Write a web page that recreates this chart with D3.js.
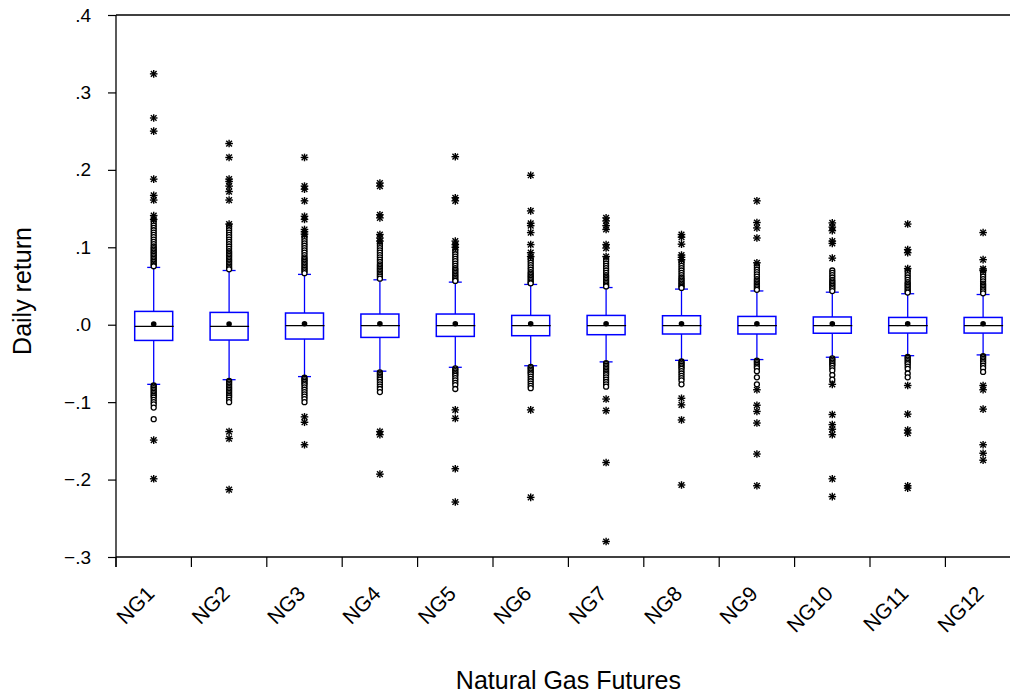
<!DOCTYPE html>
<html><head><meta charset="utf-8">
<script src="https://cdn.jsdelivr.net/npm/d3@7"></script>
<style>body{margin:0;background:#fff;overflow:hidden} text{font-family:Arial,"Liberation Sans",sans-serif;fill:#000}</style>
</head><body><svg id="c" width="1010" height="696"></svg>
<script>
const categories = ["NG1","NG2","NG3","NG4","NG5","NG6","NG7","NG8","NG9","NG10","NG11","NG12"];
const yTicks = [-0.3,-0.2,-0.1,0,0.1,0.2,0.3,0.4];
const q1 = [-0.0203,-0.0198,-0.0185,-0.0164,-0.0151,-0.0142,-0.0129,-0.0120,-0.0120,-0.0110,-0.0108,-0.0108];
const q3 = [0.0172,0.0159,0.0151,0.0138,0.0138,0.0120,0.0120,0.0116,0.0107,0.0100,0.0094,0.0094];
const medians = [-0.0022,-0.0022,-0.0013,-0.0013,-0.0013,-0.0013,-0.0013,-0.0013,-0.0013,-0.0013,-0.0013,-0.0013];
const means = [0.0010,0.0010,0.0013,0.0013,0.0013,0.0013,0.0013,0.0013,0.0013,0.0013,0.0013,0.0013];
const whiskerLow = [-0.077,-0.071,-0.067,-0.060,-0.055,-0.053,-0.048,-0.046,-0.045,-0.042,-0.040,-0.039];
const whiskerHigh = [0.074,0.070,0.065,0.058,0.055,0.052,0.048,0.046,0.0436,0.042,0.040,0.039];
const nearOutliers = [
  [0.135,0.131,0.128,0.125,0.122,0.119,0.116,0.113,0.11,0.107,0.104,0.101,0.099,0.097,0.095,0.093,0.091,0.089,0.087,0.085,0.083,0.081,0.079,0.077,0.0755,-0.0785,-0.08,-0.082,-0.084,-0.086,-0.088,-0.09,-0.092,-0.094,-0.097,-0.1,-0.103,-0.107,-0.122],
  [0.128,0.125,0.122,0.119,0.116,0.113,0.11,0.107,0.104,0.101,0.098,0.095,0.093,0.091,0.089,0.087,0.085,0.083,0.081,0.079,0.077,0.075,0.073,0.0715,-0.0725,-0.074,-0.076,-0.078,-0.08,-0.082,-0.084,-0.086,-0.088,-0.09,-0.092,-0.094,-0.097,-0.1],
  [0.114,0.111,0.108,0.105,0.102,0.099,0.096,0.093,0.09,0.087,0.085,0.083,0.081,0.079,0.077,0.075,0.073,0.071,0.069,0.0665,-0.0685,-0.07,-0.072,-0.074,-0.076,-0.078,-0.081,-0.084,-0.087,-0.09,-0.093,-0.096,-0.1],
  [0.105,0.102,0.099,0.096,0.093,0.09,0.087,0.084,0.081,0.078,0.076,0.074,0.072,0.07,0.068,0.066,0.064,0.062,0.0595,-0.0615,-0.063,-0.065,-0.067,-0.069,-0.071,-0.074,-0.077,-0.08,-0.083,-0.087],
  [0.097,0.094,0.091,0.088,0.085,0.082,0.079,0.076,0.073,0.071,0.069,0.067,0.065,0.063,0.061,0.059,0.057,0.0565,-0.0565,-0.058,-0.06,-0.062,-0.064,-0.066,-0.069,-0.072,-0.075,-0.078,-0.083],
  [0.086,0.083,0.08,0.077,0.074,0.071,0.068,0.066,0.064,0.062,0.06,0.058,0.056,0.054,0.0535,-0.0545,-0.056,-0.058,-0.06,-0.062,-0.064,-0.067,-0.07,-0.073,-0.076,-0.079,-0.082],
  [0.085,0.082,0.079,0.076,0.073,0.07,0.067,0.064,0.062,0.06,0.058,0.056,0.054,0.052,0.05,0.0495,-0.0495,-0.051,-0.053,-0.055,-0.057,-0.059,-0.061,-0.063,-0.065,-0.068,-0.071,-0.074,-0.077,-0.08],
  [0.082,0.079,0.076,0.073,0.07,0.067,0.064,0.061,0.059,0.057,0.055,0.053,0.051,0.049,0.0475,-0.0475,-0.049,-0.051,-0.053,-0.055,-0.057,-0.06,-0.063,-0.066,-0.069,-0.072,-0.077],
  [0.077,0.074,0.071,0.068,0.065,0.062,0.059,0.057,0.055,0.053,0.051,0.049,0.047,0.045,-0.0465,-0.048,-0.05,-0.052,-0.054,-0.056,-0.06,-0.068,-0.077],
  [0.07,0.067,0.064,0.061,0.058,0.056,0.054,0.052,0.05,0.048,0.046,0.0435,-0.0435,-0.045,-0.047,-0.049,-0.051,-0.053,-0.056,-0.059,-0.065,-0.071],
  [0.07,0.067,0.064,0.061,0.058,0.055,0.053,0.051,0.049,0.047,0.045,0.043,0.0415,-0.0415,-0.043,-0.045,-0.047,-0.049,-0.051,-0.054,-0.057,-0.063,-0.068],
  [0.068,0.065,0.062,0.059,0.056,0.053,0.051,0.049,0.047,0.045,0.043,0.0405,-0.0405,-0.042,-0.044,-0.046,-0.048,-0.05,-0.053,-0.056,-0.061]
];
const farOutliers = [
  [0.324,0.267,0.250,0.188,0.167,0.161,0.141,0.136,-0.149,-0.199],
  [0.234,0.216,0.188,0.185,0.179,0.172,0.161,0.130,-0.138,-0.147,-0.213],
  [0.216,0.179,0.175,0.160,0.140,0.136,0.123,0.120,0.117,-0.119,-0.126,-0.155],
  [0.183,0.179,0.142,0.138,0.1165,0.112,0.108,-0.138,-0.142,-0.193],
  [0.217,0.164,0.160,0.108,0.1035,0.100,-0.110,-0.121,-0.186,-0.229],
  [0.193,0.147,0.131,0.128,0.119,0.1035,0.093,0.088,-0.110,-0.223],
  [0.138,0.134,0.128,0.123,0.1035,0.099,0.088,-0.096,-0.111,-0.178,-0.280],
  [0.1165,0.113,0.104,0.090,0.087,0.084,-0.095,-0.1035,-0.123,-0.207],
  [0.160,0.132,0.125,0.112,0.080,-0.084,-0.104,-0.112,-0.127,-0.167,-0.208],
  [0.1315,0.126,0.1215,0.108,0.105,0.086,-0.077,-0.116,-0.129,-0.135,-0.142,-0.199,-0.222],
  [0.130,0.097,0.093,0.0725,-0.0785,-0.1155,-0.136,-0.140,-0.208,-0.211],
  [0.119,0.084,0.072,0.070,-0.0785,-0.084,-0.109,-0.155,-0.166,-0.175]
];

const svg = d3.select("#c");
const mLeft = 116, mTop = 15, mBottom = 557, bandW = 75.4;
const x = d3.scaleBand().domain(categories).range([mLeft, mLeft + bandW * categories.length]).padding(0);
const y = d3.scaleLinear().domain([-0.3, 0.4]).range([mBottom, mTop]);
const mRight = mLeft + bandW * categories.length;
const boxW = 38, capW = 13;
const blue = "#0000ff";
const FONT = "Arial, 'Liberation Sans', sans-serif";

// frame
svg.append("line").attr("x1", mLeft).attr("x2", mRight).attr("y1", mTop).attr("y2", mTop).attr("stroke", "#000").attr("stroke-width", 1.3);
svg.append("line").attr("x1", mRight).attr("x2", mRight).attr("y1", mTop).attr("y2", mBottom).attr("stroke", "#000").attr("stroke-width", 1.3);

// y axis
const yAxis = d3.axisLeft(y).tickValues(yTicks).tickSize(8).tickSizeOuter(0)
  .tickFormat(d => d3.format(".1f")(d).replace("0.", "."));
const gy = svg.append("g").attr("transform", `translate(${mLeft},0)`).call(yAxis);
gy.select(".domain").attr("stroke", "#000").attr("stroke-width", 1.3).attr("d", `M0,${mTop}V${mBottom + 10}`);
gy.selectAll(".tick line").attr("stroke", "#000").attr("stroke-width", 1.2);
gy.selectAll(".tick text").attr("x", -25).attr("font-size", 19).attr("font-family", FONT).attr("fill", "#000");

// x axis
const xAxis = d3.axisBottom(x).tickSize(0).tickSizeOuter(0).tickPadding(0);
const gx = svg.append("g").attr("transform", `translate(0,${mBottom})`).call(xAxis);
gx.select(".domain").attr("stroke", "#000").attr("stroke-width", 1.3).attr("d", `M${mLeft},0H${mRight}`);
gx.selectAll(".tick text")
  .attr("font-size", 21).attr("font-family", FONT).attr("fill", "#000")
  .attr("text-anchor", "end").attr("dy", 0).attr("y", 0)
  .attr("transform", "translate(2,38) rotate(-45)");
gx.selectAll(".tick").each(function(d) {
  d3.select(this).append("line").attr("x1", -bandW / 2).attr("x2", -bandW / 2).attr("y1", 0).attr("y2", 10)
    .attr("stroke", "#000").attr("stroke-width", 1.2);
});

// boxes
const g = svg.append("g");
categories.forEach((c, i) => {
  const cx = x(c) + x.bandwidth() / 2;
  const gg = g.append("g");
  gg.append("line").attr("x1", cx).attr("x2", cx).attr("y1", y(q3[i])).attr("y2", y(whiskerHigh[i])).attr("stroke", blue).attr("stroke-width", 1.3);
  gg.append("line").attr("x1", cx).attr("x2", cx).attr("y1", y(q1[i])).attr("y2", y(whiskerLow[i])).attr("stroke", blue).attr("stroke-width", 1.3);
  gg.append("line").attr("x1", cx - capW / 2).attr("x2", cx + capW / 2).attr("y1", y(whiskerHigh[i])).attr("y2", y(whiskerHigh[i])).attr("stroke", blue).attr("stroke-width", 1.3);
  gg.append("line").attr("x1", cx - capW / 2).attr("x2", cx + capW / 2).attr("y1", y(whiskerLow[i])).attr("y2", y(whiskerLow[i])).attr("stroke", blue).attr("stroke-width", 1.3);
  gg.append("rect").attr("x", cx - boxW / 2).attr("y", y(q3[i])).attr("width", boxW).attr("height", y(q1[i]) - y(q3[i]))
    .attr("fill", "#fff").attr("stroke", blue).attr("stroke-width", 1.5);
  gg.append("line").attr("x1", cx - boxW / 2).attr("x2", cx + boxW / 2 + 1).attr("y1", y(medians[i])).attr("y2", y(medians[i])).attr("stroke", "#000").attr("stroke-width", 1.3);
  gg.append("circle").attr("cx", cx).attr("cy", y(means[i])).attr("r", 2.8).attr("fill", "#000");
  gg.selectAll("circle.near").data(nearOutliers[i]).join("circle").attr("class", "near")
    .attr("cx", cx).attr("cy", d => y(d)).attr("r", 2.5).attr("fill", "#fff").attr("stroke", "#000").attr("stroke-width", 1.3);
  const stars = gg.selectAll("g.star").data(farOutliers[i]).join("g").attr("class", "star")
    .attr("transform", d => `translate(${cx},${y(d)})`);
  const s = 3.8;
  [[-s,0,s,0],[0,-s,0,s],[-s*0.75,-s*0.75,s*0.75,s*0.75],[-s*0.75,s*0.75,s*0.75,-s*0.75]].forEach(l => {
    stars.append("line").attr("x1", l[0]).attr("y1", l[1]).attr("x2", l[2]).attr("y2", l[3]).attr("stroke", "#000").attr("stroke-width", 1.4);
  });
});

// titles
svg.append("text").attr("transform", `translate(31,291) rotate(-90)`).attr("text-anchor", "middle").attr("font-size", 25).attr("font-family", FONT).text("Daily return");
svg.append("text").attr("x", (mLeft + mRight) / 2).attr("y", 689).attr("text-anchor", "middle").attr("font-size", 25).attr("font-family", FONT).text("Natural Gas Futures");
</script>
</body></html>
